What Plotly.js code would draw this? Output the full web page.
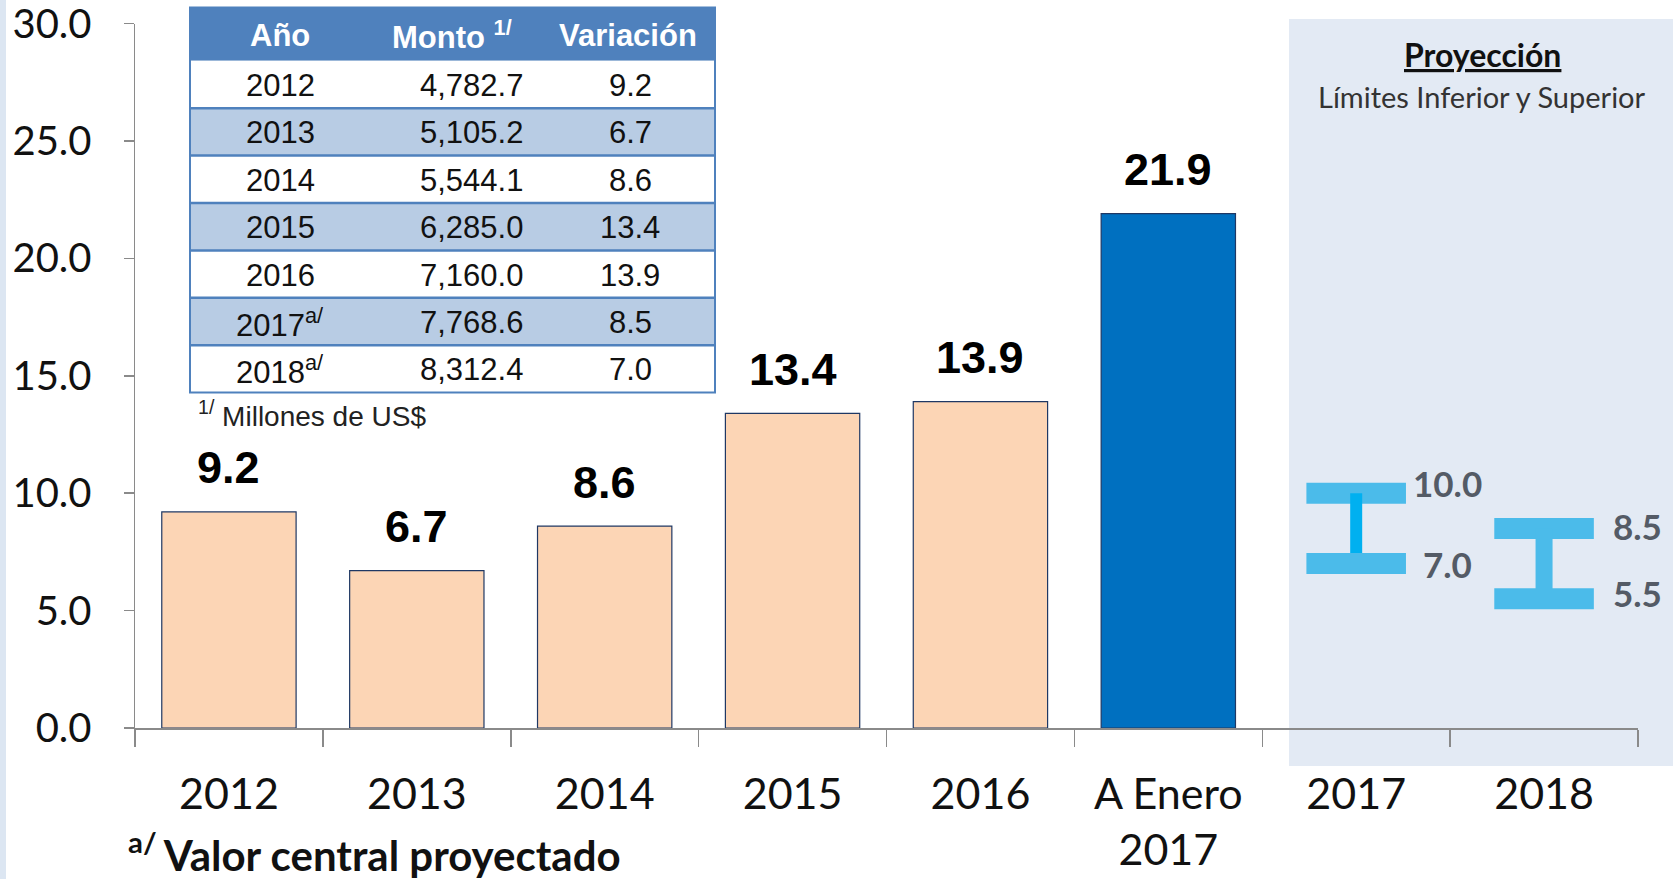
<!DOCTYPE html>
<html>
<head>
<meta charset="utf-8">
<script src="https://cdn.plot.ly/plotly-3.0.1.min.js"></script>
<style>html,body{margin:0;padding:0;background:#fff;}#chart{width:1673px;height:879px;}</style>
</head>
<body>
<div id="chart"></div>
<script>
// ---- data ----
const categories = ['2012', '2013', '2014', '2015', '2016', 'A Enero<br>2017', '2017', '2018'];
const barCategories = ['2012', '2013', '2014', '2015', '2016', 'A Enero<br>2017'];
const growthValues = [9.2, 6.7, 8.6, 13.4, 13.9, 21.9];
const growthLabels = ['9.2', '6.7', '8.6', '13.4', '13.9', '21.9'];
const projCategories = ['2017', '2018'];
const projLow = [7.0, 5.5];
const projHigh = [10.0, 8.5];
const projLowLabels = ['7.0', '5.5'];
const projHighLabels = ['10.0', '8.5'];
const yTickValues = [0, 5, 10, 15, 20, 25, 30];
const tableHeader = ['Año', 'Monto <sup>1/</sup>', 'Variación'];
const tableYears = ['2012', '2013', '2014', '2015', '2016', '2017<sup>a/</sup>', '2018<sup>a/</sup>'];
const tableMonto = ['4,782.7', '5,105.2', '5,544.1', '6,285.0', '7,160.0', '7,768.6', '8,312.4'];
const tableVariacion = ['9.2', '6.7', '8.6', '13.4', '13.9', '8.5', '7.0'];

// ---- styles ----
const W = 1673, H = 879;
const M = {l: 135, r: 35, t: 5, b: 151};
const PW = W - M.l - M.r, PH = H - M.t - M.b;
const px2x = p => (p - M.l) / PW;
const py2y = p => (H - M.b - p) / PH;
const barColors = ['#FCD5B5', '#FCD5B5', '#FCD5B5', '#FCD5B5', '#FCD5B5', '#0070C0'];
const capColor = '#4BBBEA';
const stemColors = ['#00B0F0', '#4BBBEA'];
const stemWidths = [12, 17];
const capHalf = 0.265;
const axisFont = 'Lato, "Open Sans", sans-serif';
const tableFont = '"Liberation Sans Narrow", "Arial Narrow", "Liberation Sans", Arial, sans-serif';

const traces = [];
traces.push({
  type: 'bar', x: barCategories, y: growthValues,
  marker: {color: barColors, line: {color: '#1F3864', width: 1.2}},
  hoverinfo: 'skip', xaxis: 'x', yaxis: 'y'
});

projCategories.forEach((c, i) => {
  const xi = categories.indexOf(c);
  traces.push({type: 'scatter', mode: 'lines', x: [xi - capHalf, xi + capHalf], y: [projHigh[i], projHigh[i]],
    line: {color: capColor, width: 21}, xaxis: 'x2', yaxis: 'y', hoverinfo: 'skip', showlegend: false});
  traces.push({type: 'scatter', mode: 'lines', x: [xi, xi], y: [projHigh[i], projLow[i]],
    line: {color: stemColors[i], width: stemWidths[i]}, xaxis: 'x2', yaxis: 'y', hoverinfo: 'skip', showlegend: false});
  traces.push({type: 'scatter', mode: 'lines', x: [xi - capHalf, xi + capHalf], y: [projLow[i], projLow[i]],
    line: {color: capColor, width: 21}, xaxis: 'x2', yaxis: 'y', hoverinfo: 'skip', showlegend: false});
});

const shapes = [];
const annotations = [];
// left strip
shapes.push({type: 'rect', xref: 'paper', yref: 'paper', x0: px2x(0), x1: px2x(6), y0: py2y(H), y1: py2y(0),
  fillcolor: '#DCE6F2', line: {width: 0}, layer: 'below'});
// projection shade
shapes.push({type: 'rect', xref: 'paper', yref: 'paper', x0: px2x(1289), x1: px2x(W), y0: py2y(766), y1: py2y(19),
  fillcolor: '#E3EAF4', line: {width: 0}, layer: 'below'});

// ---- inset table (shapes + annotations built from the table arrays) ----
const tableTop = 7.5, headerH = 53.3, rowH = 47.4;
const tableLeft = 190, tableRight = 715;
const headerCenters = [280, 452, 628];
const cellCenters = [280, 471, 630];
const tableCols = [tableYears, tableMonto, tableVariacion];
shapes.push({type: 'rect', xref: 'paper', yref: 'paper', x0: px2x(tableLeft), x1: px2x(tableRight),
  y0: py2y(tableTop + headerH), y1: py2y(tableTop), fillcolor: '#4F81BD', line: {width: 0}, layer: 'above'});
tableHeader.forEach((h, j) => {
  annotations.push({xref: 'paper', yref: 'paper', x: px2x(headerCenters[j]), y: py2y(tableTop + headerH / 2 + 1),
    text: '<b>' + h + '</b>', showarrow: false, xanchor: 'center', yanchor: 'middle',
    font: {family: tableFont, size: 31, color: '#FFFFFF'}});
});
tableYears.forEach((_, r) => {
  const top = tableTop + headerH + rowH * r;
  shapes.push({type: 'rect', xref: 'paper', yref: 'paper', x0: px2x(tableLeft), x1: px2x(tableRight),
    y0: py2y(top + rowH), y1: py2y(top), fillcolor: r % 2 === 0 ? '#FFFFFF' : '#B8CCE4', line: {width: 0}, layer: 'above'});
  if (r > 0) {
    shapes.push({type: 'line', xref: 'paper', yref: 'paper', x0: px2x(tableLeft), x1: px2x(tableRight), y0: py2y(top), y1: py2y(top),
      line: {color: '#4F81BD', width: 2.5}, layer: 'above'});
  }
  tableCols.forEach((col, j) => {
    annotations.push({xref: 'paper', yref: 'paper', x: px2x(cellCenters[j]), y: py2y(top + rowH / 2 + 1),
      text: col[r], showarrow: false, xanchor: 'center', yanchor: 'middle',
      font: {family: tableFont, size: 31, color: '#111111'}});
  });
});
shapes.push({type: 'rect', xref: 'paper', yref: 'paper', x0: px2x(tableLeft), x1: px2x(tableRight),
  y0: py2y(tableTop + headerH + rowH * tableYears.length), y1: py2y(tableTop), line: {color: '#4F81BD', width: 2}, layer: 'above'});

barCategories.forEach((c, i) => {
  annotations.push({x: categories.indexOf(c), y: growthValues[i], xref: 'x2', yref: 'y', text: '<b>' + growthLabels[i] + '</b>',
    showarrow: false, yanchor: 'middle', yshift: 44,
    font: {family: '"Liberation Sans", Arial, sans-serif', size: 45, color: '#000'}});
});
projCategories.forEach((c, i) => {
  const xi = categories.indexOf(c);
  annotations.push({x: xi + capHalf, y: projHigh[i], xref: 'x2', yref: 'y', text: '<b>' + projHighLabels[i] + '</b>',
    showarrow: false, xanchor: 'left', yanchor: 'middle', xshift: i === 0 ? 5 : 17, yshift: i === 0 ? 10 : 2,
    font: {family: axisFont, size: 35, color: '#545B66'}});
  annotations.push({x: xi + capHalf, y: projLow[i], xref: 'x2', yref: 'y', text: '<b>' + projLowLabels[i] + '</b>',
    showarrow: false, xanchor: 'left', yanchor: 'middle', xshift: i === 0 ? 15 : 17, yshift: i === 0 ? 0 : 6,
    font: {family: axisFont, size: 35, color: '#545B66'}});
});
annotations.push({xref: 'paper', yref: 'paper', x: px2x(1482), y: py2y(55), text: '<b>Proyección</b>', showarrow: false,
  xanchor: 'center', yanchor: 'middle', font: {family: axisFont, size: 32, color: '#111', lineposition: 'under'}});
annotations.push({xref: 'paper', yref: 'paper', x: px2x(1482), y: py2y(96), text: 'Límites Inferior y Superior', showarrow: false,
  xanchor: 'center', yanchor: 'middle', font: {family: axisFont, size: 29, color: '#333'}});
annotations.push({xref: 'paper', yref: 'paper', x: px2x(126), y: py2y(852), text: '<b><sup>a/ </sup>Valor central proyectado</b>', showarrow: false,
  xanchor: 'left', yanchor: 'middle', font: {family: axisFont, size: 42, color: '#111'}});
annotations.push({xref: 'paper', yref: 'paper', x: px2x(196), y: py2y(414), text: '<sup>1/</sup> Millones de US$', showarrow: false,
  xanchor: 'left', yanchor: 'middle', font: {family: tableFont, size: 28, color: '#222'}});

const layout = {
  width: W, height: H, margin: M,
  paper_bgcolor: '#FFFFFF', plot_bgcolor: 'rgba(0,0,0,0)',
  showlegend: false, bargap: 0.285,
  xaxis: {
    type: 'category', categoryorder: 'array', categoryarray: categories, tickvals: categories, ticktext: categories,
    range: [-0.5, 7.5], tickson: 'boundaries', ticks: 'outside', ticklen: 17, tickwidth: 1.5, tickcolor: '#8A8A8A',
    showline: true, linecolor: '#8A8A8A', linewidth: 1.5, showgrid: false, zeroline: false,
    tickfont: {family: axisFont, size: 43, color: '#111'}, ticklabelstandoff: 28, fixedrange: true
  },
  xaxis2: {type: 'linear', overlaying: 'x', range: [-0.5, 7.5], visible: false, fixedrange: true},
  yaxis: {
    domain: [0, py2y(23.5)], range: [0, 30], tickvals: yTickValues, tickformat: '.1f',
    ticks: 'outside', ticklen: 10, tickwidth: 1.5, tickcolor: '#8A8A8A',
    showline: true, linecolor: '#8A8A8A', linewidth: 1.5, showgrid: false, zeroline: false,
    tickfont: {family: axisFont, size: 40, color: '#111'}, ticklabelstandoff: 24, ticklabeloverflow: 'allow', fixedrange: true
  },
  shapes: shapes, annotations: annotations
};

Plotly.newPlot('chart', traces, layout, {displayModeBar: false, staticPlot: true});
</script>
</body>
</html>
